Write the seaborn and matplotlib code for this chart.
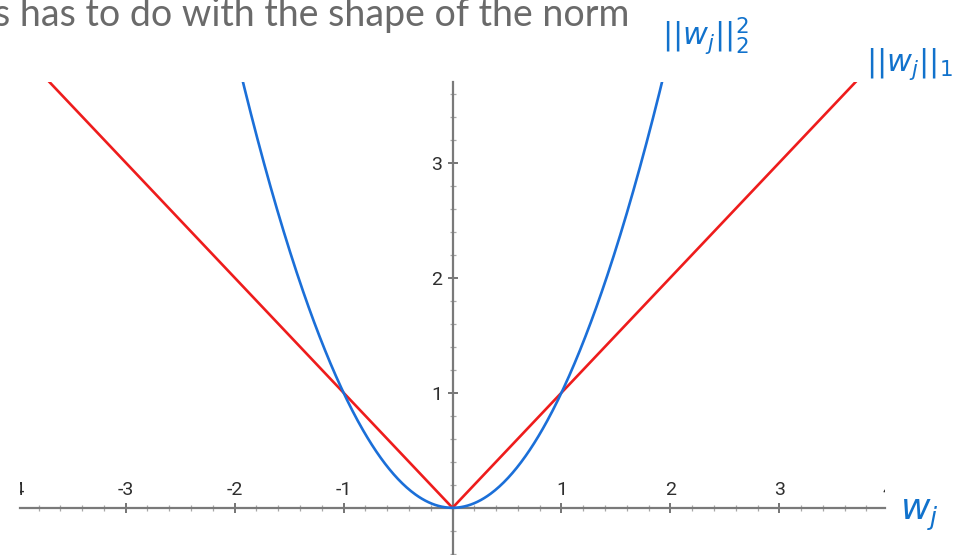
import numpy as np
import pandas as pd
import matplotlib
matplotlib.use("Agg")
import matplotlib.pyplot as plt
import seaborn as sns
from matplotlib.ticker import MultipleLocator, FixedLocator

# weight values and the two penalty curves
w = np.linspace(-4.0, 4.0, 801)
l1_penalty = np.abs(w)
l2_penalty = w ** 2

x_tick_values = [-4, -3, -2, -1, 1, 2, 3, 4]
y_tick_values = [1, 2, 3]

x_range = (-3.97, 3.97)
y_range = (-0.41, 3.70)

sns.set_style("white")
plt.rcParams["font.family"] = ["Roboto", "DejaVu Sans"]

fig = plt.figure(figsize=(9.75, 5.55), dpi=100)
W, H = 975, 555
ax = fig.add_axes([20 / W, 0.0, (885 - 20) / W, (555 - 82) / H])

df = pd.DataFrame({"w": np.concatenate([w, w]),
                   "penalty": np.concatenate([l1_penalty, l2_penalty]),
                   "norm": ["L1"] * len(w) + ["L2"] * len(w)})

sns.lineplot(data=df, x="w", y="penalty", hue="norm",
             palette={"L1": "#ee1c1c", "L2": "#1b6fd8"},
             linewidth=1.9, legend=False, ax=ax, sort=False, zorder=3)

ax.set_xlim(*x_range)
ax.set_ylim(*y_range)
ax.set_xlabel("")
ax.set_ylabel("")

axis_color = "#7a7a7a"
for side in ["top", "right"]:
    ax.spines[side].set_visible(False)
for side in ["left", "bottom"]:
    ax.spines[side].set_position("zero")
    ax.spines[side].set_color(axis_color)
    ax.spines[side].set_linewidth(1.6)
    ax.spines[side].set_zorder(2)

ax.xaxis.set_major_locator(FixedLocator([v for v in x_tick_values if abs(v) < 3.9]))
ax.xaxis.set_minor_locator(MultipleLocator(0.2))
ax.yaxis.set_major_locator(FixedLocator(y_tick_values))
ax.yaxis.set_minor_locator(MultipleLocator(0.2))

ax.tick_params(axis="both", which="both", bottom=True, left=True,
               top=False, right=False)
ax.tick_params(axis="both", which="major", direction="inout", length=7,
               width=1.3, color="#6a6a6a")
ax.tick_params(axis="both", which="minor", direction="inout", length=5,
               width=0.9, color="#a8a8a8")
ax.tick_params(axis="x", labelbottom=False)
ax.tick_params(axis="y", labelleft=True, labelsize=14, pad=4,
               labelcolor="#2e2e2e")

# x tick labels sit above the horizontal axis
for v in x_tick_values:
    ax.text(v, 0.075, f"{v}", ha="center", va="bottom", fontsize=14,
            color="#2e2e2e", clip_on=True)

# caption along the top edge
fig.text(-6 / W, 1 - 15 / H, "s has to do with the shape of the norm",
         fontsize=27, color="#6a6a6a", family=["Lato", "DejaVu Sans"],
         ha="left", va="center")

# blue annotations for the two norms and the axis variable
ink = "#1172cc"
fig.text(662 / W, 1 - 36 / H, r"$||w_j||_2^2$", fontsize=22, color=ink,
         ha="left", va="center")
fig.text(866 / W, 1 - 64 / H, r"$||w_j||_1$", fontsize=22, color=ink,
         ha="left", va="center")
fig.text(900 / W, 1 - 515 / H, r"$w_j$", fontsize=26, color=ink,
         ha="left", va="center")

fig.savefig("out.png", dpi=100)
